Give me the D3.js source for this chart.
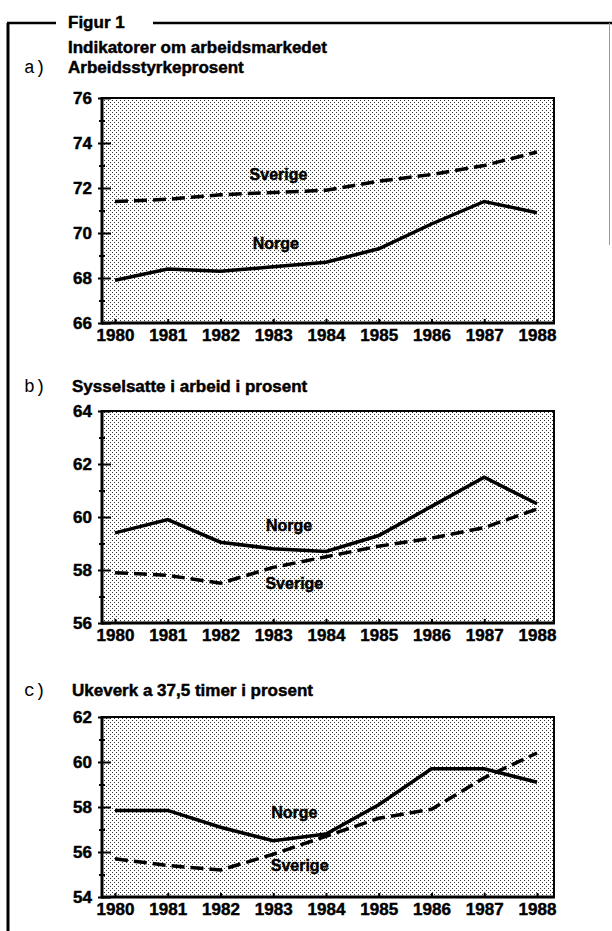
<!DOCTYPE html>
<html>
<head>
<meta charset="utf-8">
<script src="https://cdn.jsdelivr.net/npm/d3@7"></script>
<style>
  body { margin: 0; background: #fff; }
  svg { display: block; }
  text { font-family: "Liberation Sans", Arial, Helvetica, sans-serif; font-weight: bold; fill: #000; }
  .heavy { stroke: #000; stroke-width: 0.45px; }
  .mono { font-family: "Liberation Mono", "Courier New", monospace; font-weight: normal; stroke: none; }
</style>
</head>
<body>
<svg id="chart" width="612" height="931"></svg>
<script>
// years along the x axis
const years = [1980, 1981, 1982, 1983, 1984, 1985, 1986, 1987, 1988];

// a) Arbeidsstyrkeprosent
const aNorge   = [67.9, 68.4, 68.3, 68.5, 68.7, 69.3, 70.4, 71.4, 70.9];
const aSverige = [71.4, 71.5, 71.7, 71.8, 71.9, 72.3, 72.6, 73.0, 73.6];
// b) Sysselsatte i arbeid i prosent
const bNorge   = [59.4, 59.9, 59.05, 58.8, 58.7, 59.3, 60.4, 61.5, 60.5];
const bSverige = [57.9, 57.8, 57.5, 58.1, 58.5, 58.9, 59.2, 59.6, 60.3];
// c) Ukeverk a 37,5 timer i prosent
const cNorge   = [57.85, 57.85, 57.1, 56.5, 56.8, 58.1, 59.7, 59.7, 59.1];
const cSverige = [55.7, 55.4, 55.2, 55.9, 56.7, 57.5, 57.9, 59.3, 60.4];

const aTicks = [66, 68, 70, 72, 74, 76];
const bTicks = [56, 58, 60, 62, 64];
const cTicks = [54, 56, 58, 60, 62];

const svg = d3.select("#chart");

// stipple background
const pat = svg.append("defs").append("pattern")
  .attr("id", "dots").attr("width", 4).attr("height", 4)
  .attr("patternUnits", "userSpaceOnUse");
pat.append("rect").attr("width", 4).attr("height", 4).attr("fill", "#fff");
pat.append("rect").attr("x", 0).attr("y", 0).attr("width", 1).attr("height", 1).attr("fill", "#333");
pat.append("rect").attr("x", 2).attr("y", 2).attr("width", 1).attr("height", 1).attr("fill", "#333");

// outer figure frame
svg.append("line").attr("x1", 8).attr("x2", 8).attr("y1", 23).attr("y2", 931)
  .attr("stroke", "#000").attr("stroke-width", 3);
svg.append("line").attr("x1", 7).attr("x2", 56).attr("y1", 23).attr("y2", 23)
  .attr("stroke", "#000").attr("stroke-width", 2.5);
svg.append("line").attr("x1", 153).attr("x2", 612).attr("y1", 23).attr("y2", 23)
  .attr("stroke", "#000").attr("stroke-width", 2.5);
svg.append("line").attr("x1", 609.5).attr("x2", 609.5).attr("y1", 23).attr("y2", 245)
  .attr("stroke", "#999").attr("stroke-width", 1);

svg.append("text").attr("class", "heavy").attr("x", 68).attr("y", 28).style("font-size", "17px").text("Figur 1");
svg.append("text").attr("class", "heavy").attr("x", 68).attr("y", 53).style("font-size", "17px").text("Indikatorer om arbeidsmarkedet");

const x = d3.scaleLinear().domain([1980, 1988]).range([115, 537]);
const left = 102, right = 554;

const panels = [
  { key: "a)", title: "Arbeidsstyrkeprosent", titleX: 68, titleY: 73, top: 98, bottom: 323,
    domain: [66, 76], ticks: aTicks, norge: aNorge, sverige: aSverige,
    norgeLab: [1983.05, 69.55], sverigeLab: [1983.1, 72.6] },
  { key: "b)", title: "Sysselsatte i arbeid i prosent", titleX: 72, titleY: 392, top: 411, bottom: 623,
    domain: [56, 64], ticks: bTicks, norge: bNorge, sverige: bSverige,
    norgeLab: [1983.3, 59.7], sverigeLab: [1983.4, 57.5] },
  { key: "c)", title: "Ukeverk a 37,5 timer i prosent", titleX: 72, titleY: 696, top: 717, bottom: 897,
    domain: [54, 62], ticks: cTicks, norge: cNorge, sverige: cSverige,
    norgeLab: [1983.4, 57.75], sverigeLab: [1983.5, 55.4] }
];

panels.forEach(p => {
  const y = d3.scaleLinear().domain(p.domain).range([p.bottom, p.top]);
  const g = svg.append("g");

  g.append("text").attr("class", "mono").attr("x", 24).attr("y", p.titleY)
    .style("font-size", "18px").text(p.key);
  g.append("text").attr("class", "heavy").attr("x", p.titleX).attr("y", p.titleY)
    .style("font-size", "17px").text(p.title);

  // plot background + border
  g.append("rect").attr("x", left).attr("y", p.top)
    .attr("width", right - left).attr("height", p.bottom - p.top)
    .attr("fill", "url(#dots)").attr("stroke", "#000").attr("stroke-width", 2);

  // minor y ticks
  const minor = d3.range(p.domain[0] + 1, p.domain[1], 2);
  const yMinor = g.append("g").attr("transform", `translate(${left},0)`)
    .call(d3.axisLeft(y).tickValues(minor).tickSize(0).tickFormat(""));
  yMinor.select(".domain").remove();
  yMinor.selectAll(".tick line").attr("x1", -3).attr("x2", 3)
    .attr("stroke", "#000").attr("stroke-width", 2);

  // major y ticks
  const yAx = g.append("g").attr("transform", `translate(${left},0)`)
    .call(d3.axisLeft(y).tickValues(p.ticks).tickSize(0).tickPadding(10));
  yAx.select(".domain").remove();
  yAx.selectAll(".tick line").attr("x1", -4).attr("x2", 9)
    .attr("stroke", "#000").attr("stroke-width", 2);
  yAx.selectAll(".tick text").attr("class", "heavy").style("font-size", "17px")
    .style("font-family", "'Liberation Sans', Arial, sans-serif").style("font-weight", "bold")
    .attr("fill", "#000");

  // x axis
  const xAx = g.append("g").attr("transform", `translate(0,${p.bottom})`)
    .call(d3.axisBottom(x).tickValues(years).tickFormat(d3.format("d")).tickSize(-4).tickPadding(6));
  xAx.select(".domain").remove();
  xAx.selectAll(".tick line").attr("stroke", "#000").attr("stroke-width", 2);
  xAx.selectAll(".tick text").attr("class", "heavy").style("font-size", "17px")
    .style("font-family", "'Liberation Sans', Arial, sans-serif").style("font-weight", "bold")
    .attr("fill", "#000");

  // heavier left and bottom axis lines
  g.append("line").attr("x1", left).attr("x2", left).attr("y1", p.top - 1).attr("y2", p.bottom + 1.5)
    .attr("stroke", "#000").attr("stroke-width", 3);
  g.append("line").attr("x1", left).attr("x2", right + 1).attr("y1", p.bottom).attr("y2", p.bottom)
    .attr("stroke", "#000").attr("stroke-width", 3);

  const line = d3.line().x((d, i) => x(years[i])).y(d => y(d));

  g.append("path").datum(p.sverige)
    .attr("fill", "none").attr("stroke", "#000").attr("stroke-width", 3.5)
    .attr("stroke-dasharray", "13,6").attr("d", line);
  g.append("path").datum(p.norge)
    .attr("fill", "none").attr("stroke", "#000").attr("stroke-width", 3.5)
    .attr("stroke-linejoin", "miter").attr("d", line);

  g.append("text").attr("class", "heavy").attr("x", x(p.norgeLab[0])).attr("y", y(p.norgeLab[1]))
    .attr("text-anchor", "middle").attr("dy", "0.35em").style("font-size", "16px").text("Norge");
  g.append("text").attr("class", "heavy").attr("x", x(p.sverigeLab[0])).attr("y", y(p.sverigeLab[1]))
    .attr("text-anchor", "middle").attr("dy", "0.35em").style("font-size", "16px").text("Sverige");
});
</script>
</body>
</html>
